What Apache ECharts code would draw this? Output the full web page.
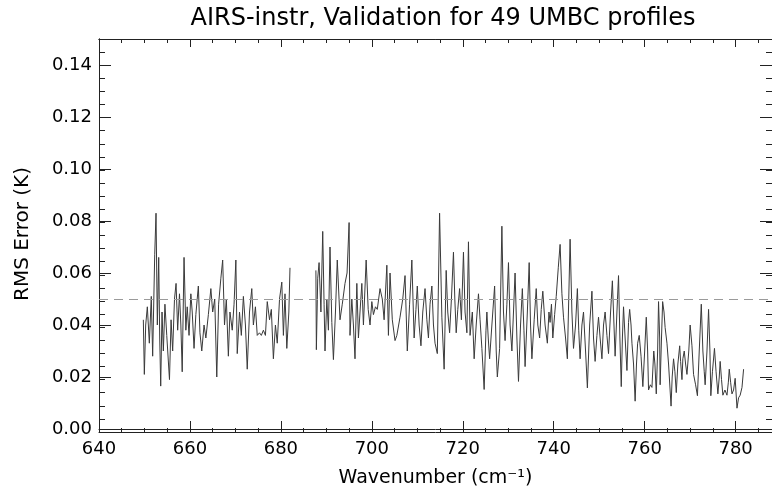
<!DOCTYPE html>
<html>
<head>
<meta charset="utf-8">
<script src="https://cdn.jsdelivr.net/npm/echarts@6/dist/echarts.min.js"></script>
<style>html,body{margin:0;padding:0;background:#fff}#c{width:772px;height:493px}</style>
</head>
<body>
<div id="c"></div>
<script>
const titleText = 'AIRS-instr, Validation for 49 UMBC profiles';
const xName = 'Wavenumber (cm\u207B\u00B9)';
const yName = 'RMS Error (K)';
const refLevel = 0.05;

const wavenumber = [
649.75,649.97,650.27,650.63,651.07,651.5,651.8,652.25,652.54,652.83,653.13,653.35,653.57,653.86,654.15,654.5,654.9,655.5,655.85,656.2,
656.6,656.95,657.3,657.7,658.0,658.3,658.7,659.1,659.4,659.8,660.2,660.5,660.9,661.3,661.85,662.2,662.6,663.1,663.5,664.05,
664.6,665.0,665.45,665.9,666.3,666.8,667.2,667.6,668.0,668.45,668.8,669.3,669.7,670.1,670.4,670.9,671.3,671.75,672.2,672.6,
673.1,673.6,673.95,674.4,674.8,675.3,675.7,676.15,676.6,677.0,677.5,677.9,678.35,678.8,679.2,679.7,680.2,680.55,680.9,681.3,
681.75,682.0,685.0,
687.7,687.8,688.1,688.4,688.8,689.2,689.5,689.7,690.1,690.45,690.8,691.2,691.55,692.0,692.4,693.0,693.5,694.1,694.55,695.0,
695.2,695.6,695.95,696.3,696.7,697.05,697.4,697.8,698.15,698.75,699.2,699.6,700.0,700.35,700.8,701.2,701.8,702.3,702.7,703.3,
703.65,704.0,704.5,705.1,705.5,706.2,706.8,707.3,707.8,708.3,708.8,709.3,709.7,710.0,710.4,710.8,711.2,711.7,712.1,712.45,
712.8,713.2,713.55,713.9,714.4,714.9,715.4,715.9,716.35,716.7,717.1,717.5,717.95,718.25,718.55,718.9,719.3,719.7,720.15,720.5,
720.9,721.25,721.6,722.1,722.5,722.95,723.45,723.8,724.2,724.7,725.1,725.3,725.6,725.9,726.4,727.0,727.35,727.6,728.1,728.6,
728.95,729.3,729.7,730.05,730.4,730.8,731.15,731.5,731.9,732.25,732.7,733.1,733.45,733.7,734.2,734.6,734.9,735.2,735.7,736.15,
736.5,736.9,737.25,737.6,738.1,738.6,738.95,739.2,739.5,739.8,740.2,740.55,741.0,741.4,741.8,742.15,742.6,743.0,743.6,744.0,
744.35,744.8,745.2,745.5,745.8,746.2,746.55,747.0,747.4,747.9,748.4,748.75,749.1,749.5,749.85,750.2,750.6,750.95,751.3,751.7,
752.05,752.5,752.9,753.25,753.5,753.9,754.25,754.55,754.85,755.1,755.35,755.7,756.1,756.45,756.7,757.0,757.2,757.55,757.9,758.2,
758.45,758.8,759.2,759.6,760.0,760.35,760.65,760.85,761.25,761.6,762.0,762.25,762.55,762.85,763.05,763.3,763.4,763.7,763.95,764.25,
764.5,764.9,765.25,765.8,766.05,766.35,766.65,766.95,767.3,767.7,767.9,768.2,768.4,768.7,769.0,769.3,769.7,770.0,770.4,770.75,
771.2,771.6,772.0,772.45,772.8,773.1,773.3,773.7,774.05,774.35,774.55,774.9,775.35,775.7,776.1,776.4,776.6,776.9,777.2,777.65,
778.1,778.4,778.6,778.9,779.2,779.55,779.9,780.3,780.65,781.0,781.4,781.75
];

const rmsError = [
0.042,0.021,0.040,0.047,0.033,0.051,0.028,0.067,0.083,0.040,0.066,0.035,0.0165,0.045,0.030,0.048,0.036,0.019,0.042,0.030,
0.050,0.056,0.038,0.052,0.040,0.022,0.066,0.038,0.047,0.036,0.052,0.045,0.031,0.044,0.055,0.037,0.030,0.040,0.035,0.044,
0.054,0.045,0.050,0.020,0.048,0.058,0.065,0.040,0.050,0.028,0.045,0.038,0.048,0.065,0.029,0.045,0.036,0.051,0.040,0.023,
0.045,0.054,0.040,0.047,0.036,0.037,0.036,0.038,0.036,0.049,0.042,0.046,0.027,0.040,0.033,0.050,0.0565,0.036,0.052,0.031,
0.045,0.062,null,
0.061,0.0305,0.058,0.064,0.045,0.076,0.048,0.030,0.050,0.038,0.070,0.041,0.0267,0.045,0.065,0.042,0.048,0.056,0.060,0.0794,
0.036,0.050,0.040,0.027,0.056,0.035,0.045,0.056,0.040,0.065,0.046,0.040,0.049,0.044,0.047,0.046,0.054,0.050,0.042,0.063,
0.036,0.060,0.042,0.034,0.036,0.043,0.050,0.059,0.030,0.048,0.065,0.035,0.046,0.055,0.040,0.032,0.045,0.054,0.042,0.035,
0.048,0.055,0.040,0.033,0.029,0.083,0.043,0.023,0.061,0.045,0.037,0.050,0.068,0.050,0.037,0.046,0.054,0.042,0.068,0.045,
0.037,0.072,0.036,0.045,0.027,0.040,0.052,0.042,0.031,0.0152,0.038,0.045,0.035,0.027,0.040,0.055,0.030,0.020,0.031,0.078,
0.045,0.034,0.048,0.064,0.040,0.030,0.045,0.060,0.035,0.0183,0.040,0.054,0.038,0.024,0.045,0.064,0.040,0.027,0.042,0.054,
0.040,0.035,0.046,0.053,0.040,0.033,0.045,0.041,0.048,0.035,0.044,0.051,0.062,0.071,0.052,0.043,0.035,0.027,0.073,0.045,
0.031,0.040,0.054,0.038,0.027,0.040,0.045,0.030,0.0158,0.040,0.053,0.035,0.026,0.036,0.043,0.035,0.027,0.040,0.045,0.036,
0.029,0.045,0.057,0.040,0.028,0.045,0.059,0.035,0.0163,0.035,0.047,0.035,0.0225,0.041,0.046,0.040,0.033,0.025,0.0107,0.025,
0.033,0.036,0.028,0.0163,0.030,0.043,0.030,0.015,0.017,0.016,0.030,0.025,0.0135,0.030,0.049,0.035,0.017,0.035,0.049,0.045,
0.039,0.033,0.025,0.0088,0.020,0.027,0.022,0.014,0.025,0.032,0.026,0.019,0.027,0.030,0.025,0.021,0.030,0.040,0.032,0.021,
0.017,0.0128,0.030,0.048,0.030,0.022,0.017,0.030,0.046,0.030,0.0128,0.022,0.031,0.022,0.0135,0.020,0.026,0.019,0.013,0.015,
0.013,0.018,0.023,0.018,0.0135,0.015,0.0195,0.008,0.012,0.013,0.016,0.023
];

const xMin = 640, xMax = 788, xStep = 20, xMinorStep = 5;
const yMin = 0, yMax = 0.15, yStep = 0.02, yMinorStep = 0.005;

const seriesData = wavenumber.map((w, i) => [w, rmsError[i] === null ? '-' : rmsError[i]]);

const FONT = 'DejaVu Sans';
const AX = '#222';
const gridBox = { left: 99, top: 39, width: 673, height: 393, containLabel: false };

function xAx(gridIndex, pos, step, tickLen, showLabel, extra) {
  return Object.assign({
    type: 'value', gridIndex, position: pos, min: xMin, max: xMax, interval: step,
    axisLine: { show: true, onZero: false, lineStyle: { color: AX, width: 1 } },
    axisTick: { show: true, inside: true, length: tickLen, lineStyle: { color: AX, width: 1 } },
    axisLabel: { show: showLabel, showMaxLabel: false, color: '#000', fontFamily: FONT, fontSize: 18, margin: 11 },
    splitLine: { show: false }
  }, extra || {});
}
function yAx(gridIndex, pos, step, tickLen, showLabel, extra) {
  return Object.assign({
    type: 'value', gridIndex, position: pos, min: yMin, max: yMax, interval: step,
    axisLine: { show: true, onZero: false, lineStyle: { color: AX, width: 1 } },
    axisTick: { show: true, inside: true, length: tickLen, lineStyle: { color: AX, width: 1 } },
    axisLabel: { show: showLabel, showMaxLabel: false, color: '#000', fontFamily: FONT, fontSize: 18, margin: 7,
      formatter: v => v.toFixed(2) },
    splitLine: { show: false }
  }, extra || {});
}

const chart = echarts.init(document.getElementById('c'), null, { renderer: 'canvas' });
chart.setOption({
  animation: false,
  backgroundColor: '#fff',
  title: {
    text: titleText, left: 438, top: 2, textAlign: 'center',
    textStyle: { fontFamily: FONT, fontSize: 24, fontWeight: 'normal', color: '#000' }
  },
  grid: [Object.assign({}, gridBox), Object.assign({}, gridBox)],
  xAxis: [
    xAx(0, 'bottom', xStep, 8, true, {
      name: xName, nameLocation: 'middle', nameGap: 40,
      nameTextStyle: { fontFamily: FONT, fontSize: 19, color: '#000' }
    }),
    xAx(0, 'top', xStep, 8, false),
    xAx(1, 'bottom', xMinorStep, 4, false),
    xAx(1, 'top', xMinorStep, 4, false)
  ],
  yAxis: [
    yAx(0, 'left', yStep, 12, true, {
      name: yName, nameLocation: 'middle', nameGap: 66, nameRotate: 90,
      nameTextStyle: { fontFamily: FONT, fontSize: 20, color: '#000' }
    }),
    yAx(0, 'right', yStep, 12, false),
    yAx(1, 'left', yMinorStep, 6, false),
    yAx(1, 'right', yMinorStep, 6, false)
  ],
  series: [{
    type: 'line', xAxisIndex: 0, yAxisIndex: 0,
    data: seriesData, showSymbol: false, symbol: 'none', connectNulls: false,
    lineStyle: { color: '#3a3a3a', width: 1 },
    markLine: {
      silent: true, symbol: ['none', 'none'], animation: false,
      label: { show: false },
      lineStyle: { color: '#9a9a9a', width: 1, type: [9, 6] },
      data: [{ yAxis: refLevel }]
    }
  }]
});
</script>
</body>
</html>
